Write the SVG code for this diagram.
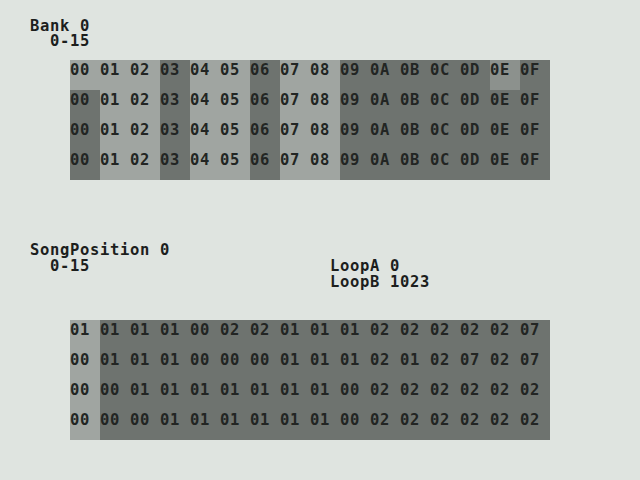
<svg xmlns="http://www.w3.org/2000/svg" width="640" height="480" viewBox="0 0 640 480">
<style>
.bg{fill:#dfe4e0}
.lt{fill:#a0a5a1}
.dk{fill:#6e736f}
.md{fill:#8c918d}
text{font-family:"DejaVu Sans Mono","Liberation Mono",monospace;font-size:15.5px;letter-spacing:0.67px;font-weight:bold;fill:#222523}
.lb{fill:#1c1e1d}
</style>
<rect class="bg" x="0" y="0" width="640" height="480"/>
<g id="bank-label">
<text class="lb" x="30" y="31">Bank 0</text>
<text class="lb" x="50" y="46">0-15</text>
</g>
<g id="bank-grid">
<rect class="dk" x="70" y="60" width="480" height="120"/>
<rect class="lt" x="70" y="60" width="90" height="30"/>
<rect class="lt" x="100" y="90" width="60" height="90"/>
<rect class="lt" x="190" y="60" width="60" height="120"/>
<rect class="lt" x="280" y="60" width="60" height="120"/>
<rect class="md" x="490" y="60" width="30" height="30"/>
<text x="70" y="75">00 01 02 03 04 05 06 07 08 09 0A 0B 0C 0D 0E 0F</text>
<text x="70" y="105">00 01 02 03 04 05 06 07 08 09 0A 0B 0C 0D 0E 0F</text>
<text x="70" y="135">00 01 02 03 04 05 06 07 08 09 0A 0B 0C 0D 0E 0F</text>
<text x="70" y="165">00 01 02 03 04 05 06 07 08 09 0A 0B 0C 0D 0E 0F</text>
</g>
<g id="song-label">
<text class="lb" x="30" y="255">SongPosition 0</text>
<text class="lb" x="50" y="271">0-15</text>
</g>
<g id="loop-label">
<text class="lb" x="330" y="271">LoopA 0</text>
<text class="lb" x="330" y="287">LoopB 1023</text>
</g>
<g id="song-grid">
<rect class="dk" x="70" y="320" width="480" height="120"/>
<rect class="lt" x="70" y="320" width="30" height="120"/>
<text x="70" y="335">01 01 01 01 00 02 02 01 01 01 02 02 02 02 02 07</text>
<text x="70" y="365">00 01 01 01 00 00 00 01 01 01 02 01 02 07 02 07</text>
<text x="70" y="395">00 00 01 01 01 01 01 01 01 00 02 02 02 02 02 02</text>
<text x="70" y="425">00 00 00 01 01 01 01 01 01 00 02 02 02 02 02 02</text>
</g>
<g id="connectors"></g>
</svg>
